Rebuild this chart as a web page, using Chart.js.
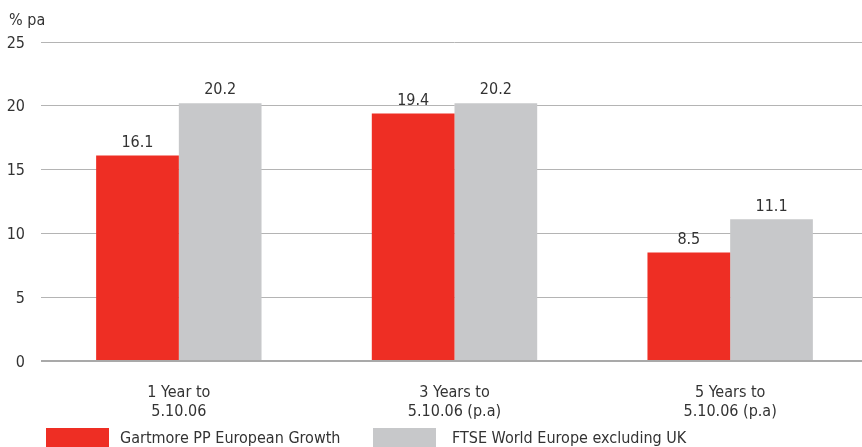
<!DOCTYPE html>
<html>
<head>
<meta charset="utf-8">
<script src="https://cdn.jsdelivr.net/npm/chart.js@4/dist/chart.umd.min.js"></script>
<style>
	html, body { margin: 0; padding: 0; background: #fff; overflow: hidden; }
	canvas { display: block; }
</style>
</head>
<body>
<!-- a area do grafico passa um pouco da borda direita da pagina -->
<canvas id="grafico" width="868" height="447"></canvas>
<script>
//---------------- Dados ----------------
const categorias = [
	["1 Year to", "5.10.06"],
	["3 Years to", "5.10.06 (p.a)"],
	["5 Years to", "5.10.06 (p.a)"]
];
const nome_fundo = "Gartmore PP European Growth";
const nome_indice = "FTSE World Europe excluding UK";
const valores_fundo = [16.1, 19.4, 8.5];
const valores_indice = [20.2, 20.2, 11.1];
const ticks_y = [0, 5, 10, 15, 20, 25];
const titulo_y = "% pa";

const cor_fundo = "#ee2e24";
const cor_indice = "#c7c8ca";
const cor_texto = "#333333";
const fonte = "'Liberation Sans Narrow', 'DejaVu Sans Condensed', 'Roboto', sans-serif";

//---------------- Plugins ----------------
//Escreve o valor em cima de cada barra
const rotulos_barras = {
	id: 'rotulos_barras',
	afterDatasetsDraw(chart){
		const ctx = chart.ctx;
		ctx.save();
		ctx.font = "16px " + fonte;
		ctx.fillStyle = cor_texto;
		ctx.textAlign = "center";
		ctx.textBaseline = "bottom";
		chart.data.datasets.forEach((ds, i) => {
			chart.getDatasetMeta(i).data.forEach((barra, j) => {
				ctx.fillText(ds.data[j].toFixed(1), barra.x, barra.y - 5);
			});
		});
		ctx.restore();
	}
};

//Titulo do eixo e legenda embaixo
const extras = {
	id: 'extras',
	afterDraw(chart){
		const ctx = chart.ctx;
		ctx.save();
		ctx.font = "16px " + fonte;
		ctx.fillStyle = cor_texto;
		ctx.textAlign = "left";
		ctx.textBaseline = "middle";
		ctx.fillText(titulo_y, 9, 21);

		const itens = chart.data.datasets;
		const caixa_x = [46, 373];
		const texto_x = [120, 452];
		itens.forEach((ds, i) => {
			ctx.fillStyle = ds.backgroundColor;
			ctx.fillRect(caixa_x[i], 428, 63, 22);
			ctx.fillStyle = cor_texto;
			ctx.fillText(ds.label, texto_x[i], 439);
		});
		ctx.restore();
	}
};

//---------------- Grafico ----------------
Chart.defaults.font.family = fonte;
Chart.defaults.font.size = 16;
Chart.defaults.color = cor_texto;

new Chart(document.getElementById('grafico'), {
	type: 'bar',
	data: {
		labels: categorias,
		datasets: [
			{ label: nome_fundo, data: valores_fundo, backgroundColor: cor_fundo, borderWidth: 0 },
			{ label: nome_indice, data: valores_indice, backgroundColor: cor_indice, borderWidth: 0 }
		]
	},
	options: {
		responsive: false,
		animation: false,
		devicePixelRatio: 1,
		layout: { padding: { top: 42, right: 0, left: 0, bottom: 0 } },
		categoryPercentage: 0.6,
		barPercentage: 1.0,
		scales: {
			x: {
				grid: { display: false },
				border: { display: false },
				ticks: { padding: 14, maxRotation: 0, color: cor_texto },
				afterFit: s => { s.height = 86; }
			},
			y: {
				min: 0,
				max: 25,
				afterBuildTicks: s => { s.ticks = ticks_y.map(v => ({ value: v })); },
				grid: {
					drawTicks: false,
					color: c => c.tick.value === 0 ? '#a9a9a9' : '#b4b4b4',
					lineWidth: c => c.tick.value === 0 ? 2 : 1
				},
				border: { display: false },
				ticks: { padding: 16, labelOffset: 1.5, color: cor_texto },
				afterFit: s => { s.width = 41; }
			}
		},
		plugins: {
			legend: { display: false },
			tooltip: { enabled: false }
		}
	},
	plugins: [rotulos_barras, extras]
});
</script>
</body>
</html>
